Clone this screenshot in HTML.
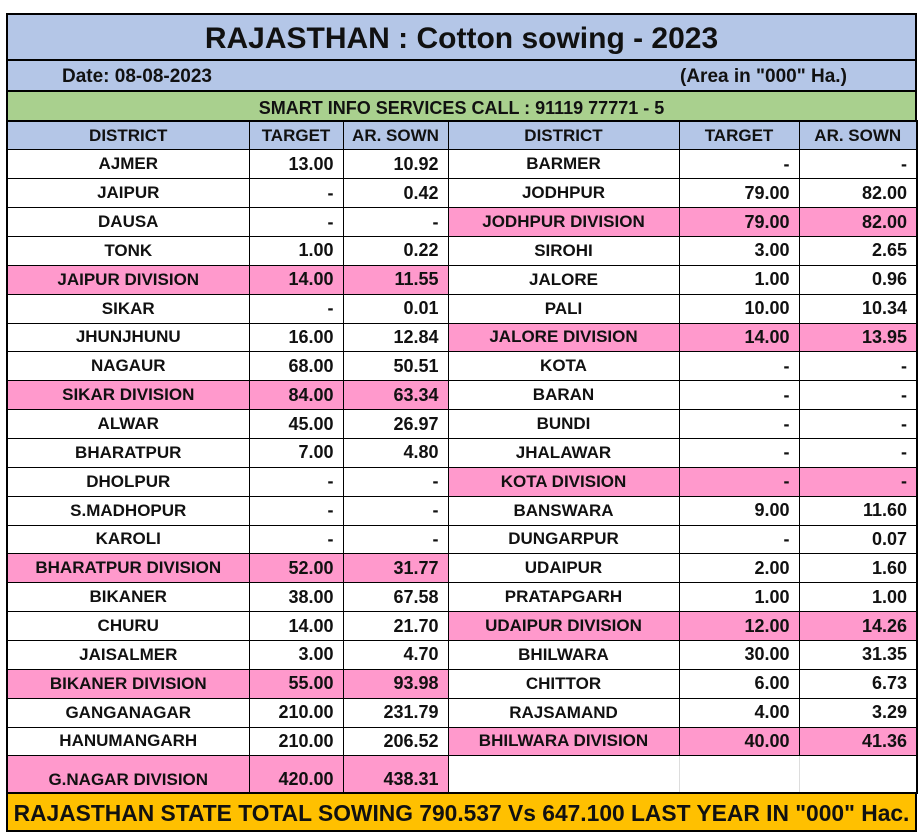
<!DOCTYPE html>
<html><head><meta charset="utf-8"><style>
html,body{margin:0;padding:0;background:#fff;width:924px;height:836px;overflow:hidden}
body{font-family:"Liberation Sans",Arial,sans-serif;font-weight:bold;color:#111}
.wrap{position:absolute;left:6px;top:13px;width:911px}
.bar{box-sizing:border-box;border:2px solid #000;border-bottom:none;position:relative}
table{border-collapse:collapse;table-layout:fixed;width:910px}
td{border:1px solid #000;height:28.86px;padding:0;font-size:17px;box-sizing:border-box;white-space:nowrap;overflow:hidden}
td.c{text-align:center}
td.r{text-align:right;padding-right:9px;font-size:18px}
.p{background:#ff99cc}
.h td{background:#b4c6e7;text-align:center;font-size:17px}
</style></head><body>
<div class="wrap">
<div class="bar" style="height:46px;background:#b4c6e7;text-align:center;font-size:30px;line-height:48px">RAJASTHAN : Cotton sowing - 2023</div>
<div class="bar" style="height:31px;background:#b4c6e7;font-size:19px;line-height:32px"><span style="position:absolute;left:54px">Date: 08-08-2023</span><span style="position:absolute;left:672px">(Area in "000" Ha.)</span></div>
<div class="bar" style="height:30px;background:#a9d08e;text-align:center;font-size:18px;line-height:32px">SMART INFO SERVICES CALL : 91119 77771 - 5</div>
<table style="border:2px solid #000">
<colgroup><col style="width:242px"><col style="width:94px"><col style="width:105px"><col style="width:231px"><col style="width:120px"><col style="width:118px"></colgroup>
<tr class="h"><td>DISTRICT</td><td>TARGET</td><td>AR. SOWN</td><td>DISTRICT</td><td>TARGET</td><td>AR. SOWN</td></tr>
<tr><td class="c">AJMER</td><td class="r">13.00</td><td class="r">10.92</td><td class="c">BARMER</td><td class="r">-</td><td class="r">-</td></tr>
<tr><td class="c">JAIPUR</td><td class="r">-</td><td class="r">0.42</td><td class="c">JODHPUR</td><td class="r">79.00</td><td class="r">82.00</td></tr>
<tr><td class="c">DAUSA</td><td class="r">-</td><td class="r">-</td><td class="c p">JODHPUR DIVISION</td><td class="r p">79.00</td><td class="r p">82.00</td></tr>
<tr><td class="c">TONK</td><td class="r">1.00</td><td class="r">0.22</td><td class="c">SIROHI</td><td class="r">3.00</td><td class="r">2.65</td></tr>
<tr><td class="c p">JAIPUR DIVISION</td><td class="r p">14.00</td><td class="r p">11.55</td><td class="c">JALORE</td><td class="r">1.00</td><td class="r">0.96</td></tr>
<tr><td class="c">SIKAR</td><td class="r">-</td><td class="r">0.01</td><td class="c">PALI</td><td class="r">10.00</td><td class="r">10.34</td></tr>
<tr><td class="c">JHUNJHUNU</td><td class="r">16.00</td><td class="r">12.84</td><td class="c p">JALORE DIVISION</td><td class="r p">14.00</td><td class="r p">13.95</td></tr>
<tr><td class="c">NAGAUR</td><td class="r">68.00</td><td class="r">50.51</td><td class="c">KOTA</td><td class="r">-</td><td class="r">-</td></tr>
<tr><td class="c p">SIKAR DIVISION</td><td class="r p">84.00</td><td class="r p">63.34</td><td class="c">BARAN</td><td class="r">-</td><td class="r">-</td></tr>
<tr><td class="c">ALWAR</td><td class="r">45.00</td><td class="r">26.97</td><td class="c">BUNDI</td><td class="r">-</td><td class="r">-</td></tr>
<tr><td class="c">BHARATPUR</td><td class="r">7.00</td><td class="r">4.80</td><td class="c">JHALAWAR</td><td class="r">-</td><td class="r">-</td></tr>
<tr><td class="c">DHOLPUR</td><td class="r">-</td><td class="r">-</td><td class="c p">KOTA DIVISION</td><td class="r p">-</td><td class="r p">-</td></tr>
<tr><td class="c">S.MADHOPUR</td><td class="r">-</td><td class="r">-</td><td class="c">BANSWARA</td><td class="r">9.00</td><td class="r">11.60</td></tr>
<tr><td class="c">KAROLI</td><td class="r">-</td><td class="r">-</td><td class="c">DUNGARPUR</td><td class="r">-</td><td class="r">0.07</td></tr>
<tr><td class="c p">BHARATPUR DIVISION</td><td class="r p">52.00</td><td class="r p">31.77</td><td class="c">UDAIPUR</td><td class="r">2.00</td><td class="r">1.60</td></tr>
<tr><td class="c">BIKANER</td><td class="r">38.00</td><td class="r">67.58</td><td class="c">PRATAPGARH</td><td class="r">1.00</td><td class="r">1.00</td></tr>
<tr><td class="c">CHURU</td><td class="r">14.00</td><td class="r">21.70</td><td class="c p">UDAIPUR DIVISION</td><td class="r p">12.00</td><td class="r p">14.26</td></tr>
<tr><td class="c">JAISALMER</td><td class="r">3.00</td><td class="r">4.70</td><td class="c">BHILWARA</td><td class="r">30.00</td><td class="r">31.35</td></tr>
<tr><td class="c p">BIKANER DIVISION</td><td class="r p">55.00</td><td class="r p">93.98</td><td class="c">CHITTOR</td><td class="r">6.00</td><td class="r">6.73</td></tr>
<tr><td class="c">GANGANAGAR</td><td class="r">210.00</td><td class="r">231.79</td><td class="c">RAJSAMAND</td><td class="r">4.00</td><td class="r">3.29</td></tr>
<tr><td class="c">HANUMANGARH</td><td class="r">210.00</td><td class="r">206.52</td><td class="c p">BHILWARA DIVISION</td><td class="r p">40.00</td><td class="r p">41.36</td></tr>
<tr style="height:37px"><td class="c p" style="height:37px;vertical-align:bottom;padding-bottom:2px">G.NAGAR DIVISION</td><td class="r p" style="vertical-align:bottom;padding-bottom:2px">420.00</td><td class="r p" style="vertical-align:bottom;padding-bottom:2px">438.31</td><td style="border:1px solid #ddd;border-left:1px solid #000"></td><td style="border:1px solid #ddd"></td><td style="border:1px solid #ddd;border-right:2px solid #000"></td></tr>
</table>
<div class="bar" style="height:38px;background:#ffc000;border-bottom:2px solid #000;border-top:none;text-align:center;font-size:22.8px;line-height:38px;white-space:nowrap;overflow:hidden">RAJASTHAN STATE TOTAL SOWING 790.537 Vs 647.100 LAST YEAR IN "000" Hac.</div>
</div>
</body></html>
